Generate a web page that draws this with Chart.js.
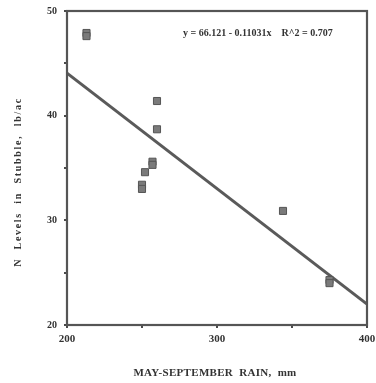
<!DOCTYPE html>
<html>
<head>
<meta charset="utf-8">
<script src="https://cdn.jsdelivr.net/npm/chart.js@4"></script>
<style>
  html, body { margin: 0; padding: 0; background: #fff; }
  #wrap { width: 376px; height: 383px; position: relative; }
</style>
</head>
<body>
<div id="wrap"><canvas id="c" width="376" height="383"></canvas></div>
<script>
// May–September rainfall (mm) and stubble N (lb/ac) observations
const rainMm = [213, 213, 260, 260, 257, 257, 252, 250, 250, 344, 375, 375];
const stubbleN = [47.9, 47.6, 41.4, 38.7, 35.6, 35.3, 34.6, 33.4, 33.0, 30.9, 24.3, 24.0];

// Fitted regression: y = 66.121 - 0.11031x, R^2 = 0.707
const fitIntercept = 66.121;
const fitSlope = -0.11031;
const fitRange = [200, 400];
const fitLabel = 'y = 66.121 - 0.11031x    R^2 = 0.707';

const xTickLabels = [200, 300, 400];
const yTickLabels = [20, 30, 40, 50];

const xTitle = 'MAY-SEPTEMBER  RAIN,  mm';
const yTitle = 'N  Levels  in  Stubble,  lb/ac';

const serif = '"Liberation Serif", "DejaVu Serif", serif';
const ink = '#4a4a4a';

const points = rainMm.map((x, i) => ({ x, y: stubbleN[i] }));
const fitPoints = fitRange.map(x => ({ x, y: fitIntercept + fitSlope * x }));

// Axis titles, equation text and the plot frame
const annotate = {
  id: 'annotate',
  afterDraw(chart) {
    const { ctx, chartArea: a } = chart;
    ctx.save();
    ctx.fillStyle = '#333';
    ctx.textBaseline = 'middle';
    ctx.textAlign = 'center';

    ctx.font = 'bold 11px ' + serif;
    ctx.letterSpacing = '0.3px';
    ctx.fillText(xTitle, 215, 373);

    ctx.save();
    ctx.translate(18, 182);
    ctx.rotate(-Math.PI / 2);
    ctx.font = 'bold 10px ' + serif;
    ctx.letterSpacing = '1.7px';
    ctx.fillText(yTitle, 0, 0);
    ctx.restore();

    ctx.font = 'bold 10px ' + serif;
    ctx.letterSpacing = '0px';
    ctx.textAlign = 'left';
    ctx.fillText(fitLabel, 183, 33);

    ctx.strokeStyle = '#555';
    ctx.lineWidth = 2.2;
    ctx.strokeRect(a.left, a.top, a.right - a.left, a.bottom - a.top);
    ctx.restore();
  }
};

new Chart(document.getElementById('c'), {
  type: 'scatter',
  data: {
    datasets: [
      {
        type: 'line',
        data: fitPoints,
        borderColor: '#5a5a5a',
        borderWidth: 3,
        pointRadius: 0,
        fill: false,
        order: 2
      },
      {
        data: points,
        pointStyle: 'rect',
        pointRadius: 5,
        backgroundColor: '#7a7a7a',
        borderColor: '#555',
        borderWidth: 1,
        order: 1
      }
    ]
  },
  plugins: [annotate],
  options: {
    responsive: false,
    animation: false,
    events: [],
    layout: { padding: { left: 0, top: 11, right: 9, bottom: 0 } },
    plugins: { legend: { display: false }, tooltip: { enabled: false } },
    scales: {
      x: {
        type: 'linear',
        min: 200,
        max: 400,
        afterFit(s) { s.height = 58; s.paddingLeft = 0; s.paddingRight = 0; },
        afterBuildTicks(s) { s.ticks = [200, 250, 300, 350, 400].map(v => ({ value: v })); },
        grid: { display: true, drawOnChartArea: false, drawTicks: true, tickLength: 3, color: ink, lineWidth: 2 },
        border: { display: false },
        ticks: {
          color: '#333',
          padding: 5,
          maxRotation: 0,
          font: { family: serif, size: 11, weight: 'bold' },
          callback: v => xTickLabels.includes(v) ? String(v) : ''
        }
      },
      y: {
        type: 'linear',
        min: 20,
        max: 50,
        afterFit(s) { s.width = 67; s.paddingTop = 0; s.paddingBottom = 0; },
        afterBuildTicks(s) { s.ticks = [20, 25, 30, 35, 40, 45, 50].map(v => ({ value: v })); },
        grid: { display: true, drawOnChartArea: false, drawTicks: true, tickLength: 3, color: ink, lineWidth: 2 },
        border: { display: false },
        ticks: {
          color: '#333',
          padding: 7,
          font: { family: serif, size: 10, weight: 'bold' },
          callback: v => yTickLabels.includes(v) ? String(v) : ''
        }
      }
    }
  }
});
</script>
</body>
</html>
